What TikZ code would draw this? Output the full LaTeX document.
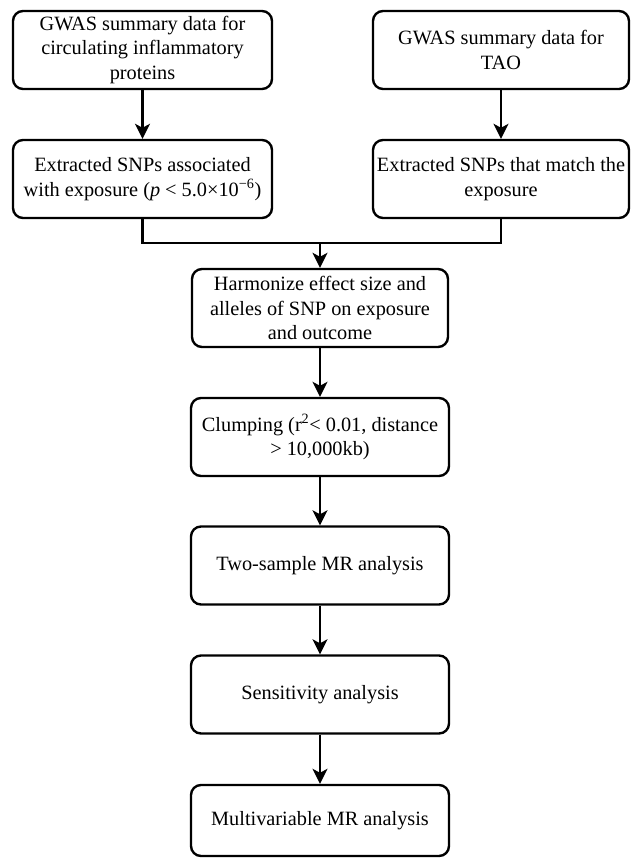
\documentclass[tikz,border=0pt]{standalone}
\usepackage{fontspec}
\setmainfont{Liberation Serif}
\usetikzlibrary{arrows.meta}
\begin{document}
\begin{tikzpicture}[x=1pt,y=-1pt,
  box/.style={draw, line width=2.4pt, rounded corners=10pt, minimum height=78pt,
    inner sep=0pt, align=center, font=\fontsize{20.3}{24.3}\selectfont},
  conn/.style={line width=2.2pt},
  arr/.style={conn, -{Stealth[length=15pt,width=15pt,inset=4pt]}}]
\useasboundingbox (0,0) rectangle (630,858);
\node[box, minimum width=259pt] (gp) at (142.5,50) {GWAS summary data for\\circulating inflammatory\\proteins};
\node[box, minimum width=259pt] (ex) at (142.5,179) {Extracted SNPs associated\\with exposure (\textit{p} < 5.0×10\textsuperscript{−6})};
\node[box, minimum width=256pt] (gt) at (501,50) {GWAS summary data for\\TAO};
\node[box, minimum width=256pt] (mt) at (501,179) {Extracted SNPs that match the\\exposure};
\node[box, minimum width=256pt] (hz) at (320,308) {Harmonize effect size and\\alleles of SNP on exposure\\and outcome};
\node[box, minimum width=258pt] (cl) at (320,437) {Clumping (r\textsuperscript{2}< 0.01, distance\\> 10,000kb)};
\node[box, minimum width=258pt] (ts) at (320,565.5) {Two-sample MR analysis};
\node[box, minimum width=258pt] (sa) at (320,694.5) {Sensitivity analysis};
\node[box, minimum width=258pt, minimum height=71pt] (mv) at (320,820.5) {Multivariable MR analysis};
\coordinate (jl) at (ex.south |- 0,243);
\coordinate (jr) at (mt.south |- 0,243);
\coordinate (jc) at (hz.north |- 0,243);
\draw[arr] (gp) -- (ex);
\draw[arr] (gt) -- (mt);
\draw[conn] (ex.south) -- (jl) -- (jr) -- (mt.south);
\draw[arr] (jc) -- (hz.north);
\draw[arr] (hz) -- (cl);
\draw[arr] (cl) -- (ts);
\draw[arr] (ts) -- (sa);
\draw[arr] (sa) -- (mv);
\end{tikzpicture}
\end{document}
